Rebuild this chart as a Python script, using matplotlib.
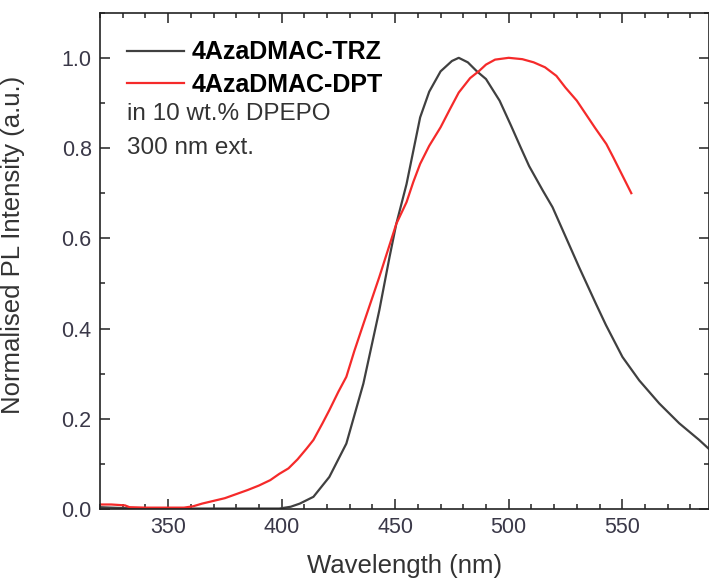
import matplotlib
matplotlib.use('Agg')
import matplotlib.pyplot as plt
from matplotlib.ticker import MultipleLocator

plt.rcParams['font.family'] = ['Liberation Sans', 'DejaVu Sans']

# 4AzaDMAC-TRZ spectrum
trz_wl = [320, 330, 340, 350, 360, 370, 380, 390, 399, 404, 408, 414, 421, 428.5,
          436, 443, 447.5, 450.5, 455, 458, 461, 465, 470, 475, 478, 482, 486,
          490, 496, 501, 505.4, 509, 515, 519.3, 525.2, 531, 538.4, 542.8, 550.1,
          557.5, 566.3, 575.1, 583.9, 588]
trz_int = [0.004, 0.002, 0.001, 0.001, 0.001, 0.001, 0.001, 0.001, 0.001, 0.005,
           0.012, 0.027, 0.071, 0.145, 0.278, 0.44, 0.558, 0.632, 0.72, 0.794,
           0.868, 0.925, 0.97, 0.993, 1.0, 0.99, 0.97, 0.953, 0.905, 0.85,
           0.80, 0.76, 0.706, 0.669, 0.602, 0.536, 0.455, 0.408, 0.337, 0.285,
           0.234, 0.19, 0.153, 0.134]

# 4AzaDMAC-DPT spectrum
dpt_wl = [320, 325, 331, 333, 340, 350, 357, 361, 365, 370, 375, 380, 385, 390,
          395, 399, 403, 407, 411, 414, 418, 421, 425, 428.5, 432, 436, 443,
          450.5, 455, 458, 461, 465, 470, 474, 478, 483, 487, 490, 494, 500, 506,
          511, 516, 521, 525, 530, 534, 538, 543, 546, 549, 552, 554]
dpt_int = [0.01, 0.01, 0.008, 0.004, 0.003, 0.003, 0.003, 0.006, 0.012, 0.018,
           0.024, 0.033, 0.042, 0.052, 0.064, 0.078, 0.09, 0.11, 0.134, 0.153,
           0.19, 0.219, 0.26, 0.293, 0.35, 0.41, 0.514, 0.632, 0.68, 0.725,
           0.765, 0.805, 0.846, 0.885, 0.923, 0.955, 0.971, 0.985, 0.996, 1.0,
           0.997, 0.99, 0.979, 0.96, 0.934, 0.905, 0.875, 0.845, 0.809, 0.78,
           0.75, 0.72, 0.70]

labels = ['4AzaDMAC-TRZ', '4AzaDMAC-DPT']
notes = ['in 10 wt.% DPEPO', '300 nm ext.']

fig = plt.figure(figsize=(7.09, 5.78), dpi=100)
ax = fig.add_axes([100 / 709, 1 - 509 / 578, 608.5 / 709, (509 - 12.7) / 578])

ax.plot(trz_wl, trz_int, color='#404040', lw=1.6, label=labels[0])
ax.plot(dpt_wl, dpt_int, color='#f52a2a', lw=1.6, label=labels[1])

ax.set_xlim(320, 588)
ax.set_ylim(0, 1.1)
ax.xaxis.set_major_locator(MultipleLocator(50))
ax.xaxis.set_minor_locator(MultipleLocator(10))
ax.yaxis.set_major_locator(MultipleLocator(0.2))
ax.yaxis.set_minor_locator(MultipleLocator(0.1))
ax.yaxis.set_major_formatter(plt.FormatStrFormatter('%.1f'))

ax.tick_params(which='both', direction='in', top=True, right=True,
               width=1.1, color='#222222', labelsize=15.5, labelcolor='#3a3848')
ax.tick_params(which='major', length=7, pad=6)
ax.tick_params(which='minor', length=3.6)
for s in ax.spines.values():
    s.set_linewidth(1.2)
    s.set_color('#222222')

ax.set_xlabel('Wavelength (nm)', fontsize=18.5, color='#333333', labelpad=11)
ax.set_ylabel('Normalised PL Intensity (a.u.)', fontsize=18.5, color='#333333')
ax.yaxis.set_label_coords(-0.123, 0.532)

leg = ax.legend(loc='upper left', bbox_to_anchor=(0.044, 0.944), frameon=False,
                prop={'weight': 'bold', 'size': 18}, handlelength=2.3,
                handletextpad=0.3, borderpad=0, borderaxespad=0, labelspacing=0.35)

ax.text(0.044, 0.795, notes[0], transform=ax.transAxes, fontsize=17.5,
        color='#333333', va='center', ha='left')
ax.text(0.044, 0.727, notes[1], transform=ax.transAxes, fontsize=17.5,
        color='#333333', va='center', ha='left')

fig.savefig('out.png', dpi=100)
